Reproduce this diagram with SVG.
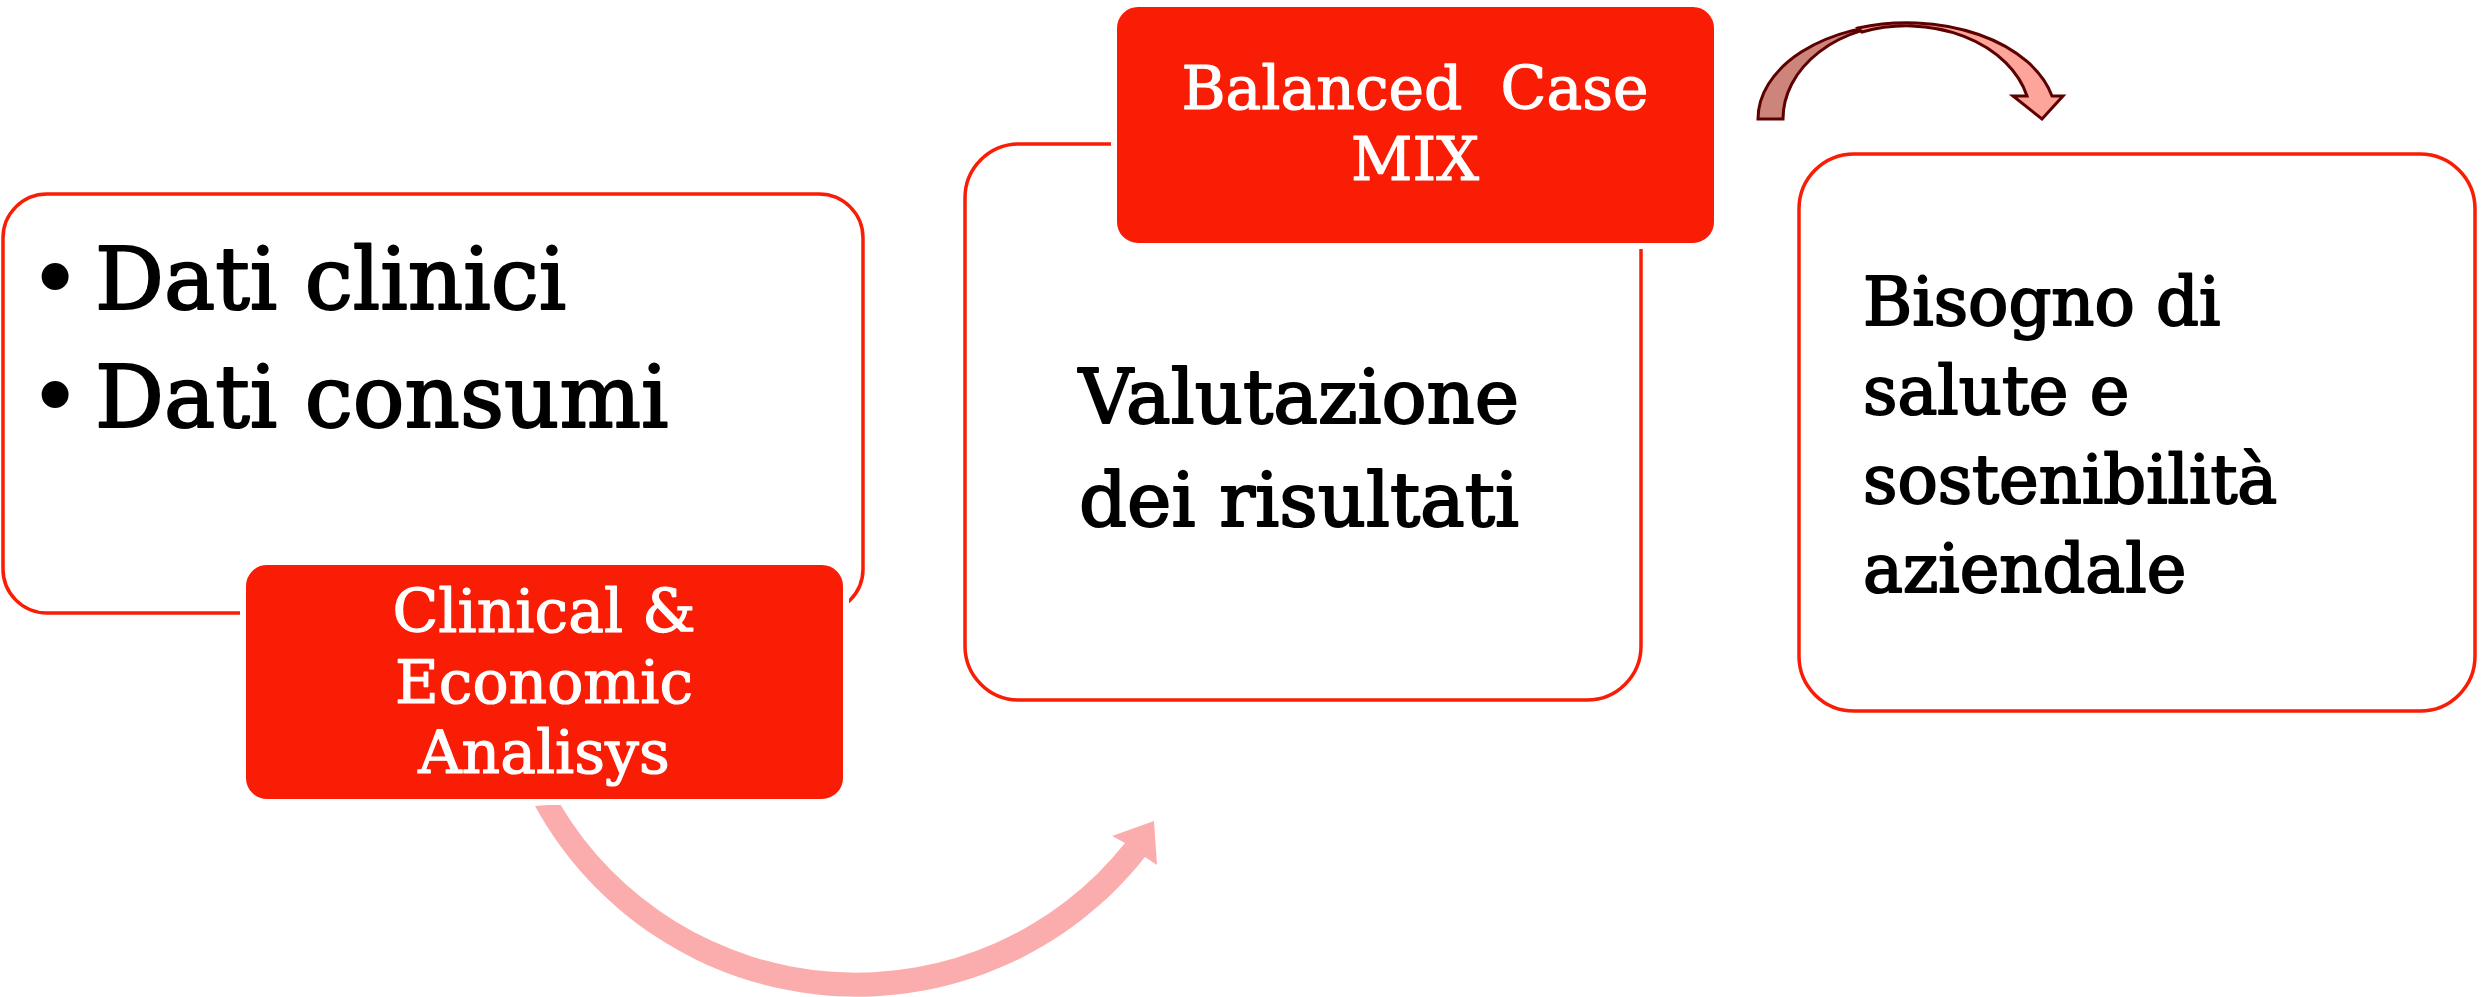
<svg xmlns="http://www.w3.org/2000/svg" width="2488" height="997" viewBox="0 0 2488 997">
<style>
.box{fill:#FFFFFF;stroke:#F91D05;stroke-width:3.5}
.tag{fill:#F91D05;stroke:#FFFFFF;stroke-width:6}
.wt{font-family:"DejaVu Serif","Liberation Serif",serif;fill:#FFFFFF;stroke:#FFFFFF;stroke-width:1.2;stroke-linejoin:round;font-size:60px;text-anchor:middle}
.bk{font-family:"DejaVu Serif","Liberation Serif",serif;fill:#000000;stroke:#000000;stroke-width:2;stroke-linejoin:round}
.arrowB{stroke:#5C0000;stroke-width:3;stroke-linejoin:miter}
</style>
<rect width="2488" height="997" fill="#FFFFFF"/>
<g id="connectors">
  <path id="big-arrow" d="M 535 806 A 367 367 0 0 0 1145 857 L 1157 865 L 1154 821 L 1112 836 L 1125 843 A 344 344 0 0 1 560 804 Z" fill="#FBADAD"/>
  <g id="small-arrow">
    <path class="arrowB" fill="#CD857B" d="M 1758 119 A 149 95 0 0 1 1907 24 A 124 95 0 0 0 1783 119 Z"/>
    <path class="arrowB" fill="#FDA59B" d="M 1858 28 A 149 95 0 0 1 2052 96 L 2063 96 L 2042 119 L 2013 96 L 2027 96 A 124 92 0 0 0 1862 32 Z"/>
  </g>
</g>
<g id="node-dati">
  <rect class="box" x="3" y="194" width="860" height="419" rx="44"/>
  <text class="bk" font-size="86"><tspan x="55" y="309" text-anchor="middle">•</tspan><tspan x="95" y="309">Dati clinici</tspan></text>
  <text class="bk" font-size="86"><tspan x="55" y="427" text-anchor="middle">•</tspan><tspan x="95" y="427">Dati consumi</tspan></text>
</g>
<g id="node-clinical">
  <rect class="tag" x="243" y="562" width="603" height="240" rx="24"/>
  <text class="wt"><tspan x="544" y="632">Clinical &amp;</tspan><tspan x="544" y="703">Economic</tspan><tspan x="544" y="773">Analisys</tspan></text>
</g>
<g id="node-valutazione">
  <rect class="box" x="965" y="144" width="676" height="556" rx="54"/>
  <text class="bk" font-size="75" text-anchor="middle"><tspan x="1299" y="423">Valutazione</tspan><tspan x="1299" y="526">dei risultati</tspan></text>
</g>
<g id="node-balanced">
  <rect class="tag" x="1114" y="4" width="603" height="242" rx="24"/>
  <text class="wt" xml:space="preserve"><tspan x="1415" y="109">Balanced  Case</tspan><tspan x="1415" y="180">MIX</tspan></text>
</g>
<g id="node-bisogno">
  <rect class="box" x="1799" y="154" width="676" height="557" rx="55"/>
  <text class="bk" font-size="67"><tspan x="1863" y="325">Bisogno di</tspan><tspan x="1863" y="414">salute e</tspan><tspan x="1863" y="503">sostenibilità</tspan><tspan x="1863" y="592">aziendale</tspan></text>
</g>
</svg>
